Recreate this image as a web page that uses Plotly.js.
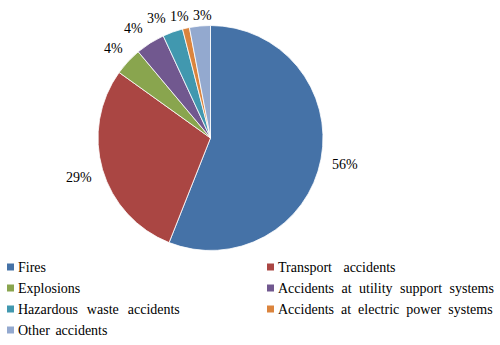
<!DOCTYPE html>
<html><head><meta charset="utf-8">
<script src="https://cdn.plot.ly/plotly-3.0.1.min.js"></script>
<style>html,body{margin:0;padding:0;background:#fff}#chart{width:500px;height:345px}</style>
</head><body><div id="chart"></div>
<script>
const categories = ["Fires","Transport accidents","Explosions","Accidents at utility support systems","Hazardous waste accidents","Accidents at electric power systems","Other accidents"];
const shares = [56.0, 28.9, 4.0, 4.2, 2.9, 1.0, 3.0];
const colors = ["#4572A7","#AA4643","#89A54E","#71588F","#4198AF","#DB843D","#93A9CF"];
const legendOrder = [0,1,2,3,4,5,6];
// legend word spacing (px) to mimic the justified legend text of the original
const legendWordSpacing = [0, 8, 0, 4, 5.5, 3.5, 2];

const W = 500, H = 345;
const cx = 210.5, cy = 138, R = 112.5;
const FONT = "Liberation Serif";

const trace = {
  type: "pie", labels: categories, values: shares, sort: false,
  direction: "clockwise", rotation: 0,
  marker: {colors: colors, line: {color: "#ffffff", width: 0.8}},
  textinfo: "none", hoverinfo: "label+percent", showlegend: false,
  domain: {x: [(cx - R) / W, (cx + R) / W], y: [1 - (cy + R) / H, 1 - (cy - R) / H]}
};

const shapes = [], annotations = [];

// outside percent labels at each slice's mid-angle
const total = shares.reduce((a, b) => a + b, 0);
let cum = 0;
const labs = shares.map((v) => {
  const mid = (cum + v / 2) / total * 2 * Math.PI;
  cum += v;
  const txt = Math.round(v / total * 100) + "%";
  const w = txt.length === 3 ? 26 : 19, h = 16;
  const ux = Math.sin(mid), uy = -Math.cos(mid);
  const d = R + 1 + Math.abs(ux) * (w / 2 + 9.5) + Math.abs(uy) * h / 2;
  return {txt, w, x: cx + ux * d, y: cy + uy * d};
});
// horizontal spreading (biased leftwards) to avoid overlapping labels
for (let it = 0; it < 120; it++) {
  const order = labs.map((l, i) => i).sort((a, b) => labs[a].x - labs[b].x);
  for (let j = 0; j < order.length - 1; j++) {
    const a = labs[order[j]], b = labs[order[j + 1]];
    if (Math.abs(a.y - b.y) < 16) {
      const need = a.w / 2 + b.w / 2 + 4 - (b.x - a.x);
      if (need > 0) { a.x -= need * 0.7; b.x += need * 0.3; }
    }
  }
}
labs.forEach(l => annotations.push({xref: "paper", yref: "paper", x: l.x / W, y: 1 - (l.y + 0.5) / H,
  xanchor: "center", yanchor: "middle", showarrow: false, text: l.txt,
  font: {family: FONT, size: 14, color: "#000"}}));
const nPct = annotations.length;

// two-column legend built from the arrays
const colX = [7, 267], rowY = [267, 288, 309, 330], sq = 7;
legendOrder.forEach((k, i) => {
  const col = i % 2, row = Math.floor(i / 2);
  const x0 = colX[col], yc = rowY[row];
  shapes.push({type: "rect", xref: "paper", yref: "paper",
    x0: x0 / W, x1: (x0 + sq) / W, y0: 1 - (yc + sq / 2) / H, y1: 1 - (yc - sq / 2) / H,
    fillcolor: colors[k], line: {width: 0}});
  annotations.push({xref: "paper", yref: "paper", x: (x0 + 9) / W, y: 1 - yc / H,
    xanchor: "left", yanchor: "middle", showarrow: false, text: categories[k],
    font: {family: FONT, size: 14, color: "#000"}});
});

const layout = {
  width: W, height: H, margin: {l: 0, r: 0, t: 0, b: 0}, paper_bgcolor: "#fff",
  showlegend: false, font: {family: FONT, size: 14, color: "#000"},
  shapes: shapes, annotations: annotations
};
Plotly.newPlot("chart", [trace], layout, {displayModeBar: false, staticPlot: true}).then(gd => {
  const texts = gd.querySelectorAll(".annotation .annotation-text");
  legendOrder.forEach((k, i) => {
    const t = texts[nPct + i];
    if (!t) return;
    const before = t.getBBox().x;
    t.style.wordSpacing = legendWordSpacing[k] + "px";
    const after = t.getBBox().x;
    t.setAttribute("x", parseFloat(t.getAttribute("x")) + (before - after));
  });
});
</script></body></html>
